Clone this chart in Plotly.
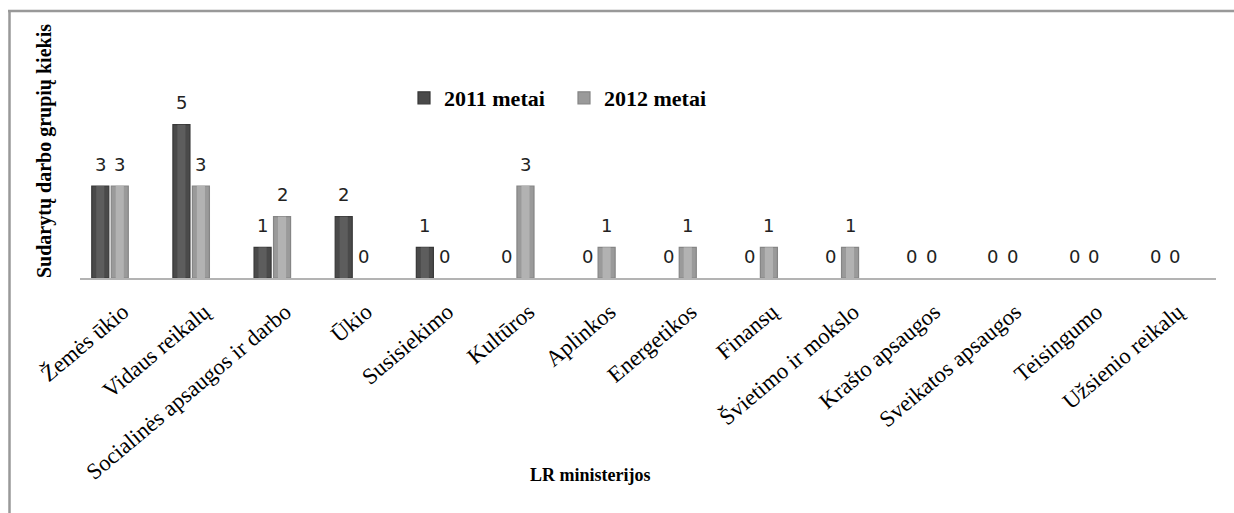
import plotly.graph_objects as go

categories = ["Žemės ūkio", "Vidaus reikalų", "Socialinės apsaugos ir darbo", "Ūkio",
              "Susisiekimo", "Kultūros", "Aplinkos", "Energetikos", "Finansų",
              "Švietimo ir mokslo", "Krašto apsaugos", "Sveikatos apsaugos",
              "Teisingumo", "Užsienio reikalų"]
values_2011 = [3, 5, 1, 2, 1, 0, 0, 0, 0, 0, 0, 0, 0, 0]
values_2012 = [3, 3, 2, 0, 0, 3, 1, 1, 1, 1, 0, 0, 0, 0]
series_names = ["2011 metai", "2012 metai"]
y_title = "Sudarytų darbo grupių kiekis"
x_title = "LR ministerijos"

W, H = 1234, 513
ML, MR, MT, MB = 80, 18, 94, 235
PW, PH = W - ML - MR, H - MT - MB

BAR_W = 0.21
STRIPE_W = 0.10
OFFS = [-0.225, 0.015]
COLORS = ["#4a4a4a", "#9a9a9a"]
STRIPES = ["#5d5d5d", "#b2b2b2"]
LINES = ["#383838", "#858585"]

xs = list(range(len(categories)))
fig = go.Figure()
for name, vals, off, col, sc, lc in zip(series_names, [values_2011, values_2012], OFFS,
                                         COLORS, STRIPES, LINES):
    fig.add_trace(go.Bar(
        x=xs, y=vals, name=name, width=BAR_W, offset=off,
        marker=dict(color=col, line=dict(color=lc, width=[1.2 if v > 0 else 0 for v in vals])),
    ))
    fig.add_trace(go.Bar(
        x=xs, y=vals, name=name, width=STRIPE_W, offset=off + (BAR_W - STRIPE_W) / 2,
        marker=dict(color=sc, line=dict(width=0)), showlegend=False, hoverinfo="skip",
    ))
    for i, v in enumerate(vals):
        fig.add_annotation(x=i + off + BAR_W / 2, y=v, xref="x", yref="y",
                           text=str(v), showarrow=False, yanchor="middle", yshift=22,
                           font=dict(family="DejaVu Sans", size=18, color="#222"))

def px_x(p):
    return (p - ML) / PW

def px_y(p):
    return (H - MB - p) / PH

fig.add_annotation(text=y_title, textangle=-90, xref="paper", yref="paper",
                   x=px_x(44), y=px_y(151), xanchor="center", yanchor="middle",
                   showarrow=False,
                   font=dict(family="Liberation Serif", size=20, color="#000", weight="bold"))
fig.add_annotation(text=x_title, xref="paper", yref="paper",
                   x=px_x(590), y=px_y(475), xanchor="center", yanchor="middle",
                   showarrow=False,
                   font=dict(family="Liberation Serif", size=18, color="#000", weight="bold"))

# outer frame (left and top edges visible)
fig.add_shape(type="line", xref="paper", yref="paper", x0=px_x(9.5), x1=px_x(9.5),
              y0=px_y(10.5), y1=px_y(520), line=dict(color="#999", width=2.5))
fig.add_shape(type="line", xref="paper", yref="paper", x0=px_x(8), x1=px_x(1240),
              y0=px_y(11), y1=px_y(11), line=dict(color="#999", width=2.5))

fig.update_layout(
    width=W, height=H, margin=dict(l=ML, r=MR, t=MT, b=MB),
    paper_bgcolor="white", plot_bgcolor="white",
    barmode="overlay",
    showlegend=True,
    legend=dict(orientation="h", x=px_x(404), y=px_y(98), xanchor="left", yanchor="middle",
                entrywidth=115, entrywidthmode="pixels", itemwidth=30,
                font=dict(family="Liberation Serif", size=22, color="#000", weight="bold")),
    xaxis=dict(range=[-0.37, 13.63], tickvals=xs, ticktext=categories, tickangle=-40,
               showline=True, linecolor="#b3b3b3", linewidth=1.5, showgrid=False,
               zeroline=False, ticks="", ticklabelshift=13, ticklabelstandoff=10,
               tickfont=dict(family="Liberation Serif", size=22.7, color="#000")),
    yaxis=dict(range=[0, 6], showticklabels=False, showgrid=False, zeroline=False,
               showline=False, ticks=""),
)

fig.write_html("out.html")
